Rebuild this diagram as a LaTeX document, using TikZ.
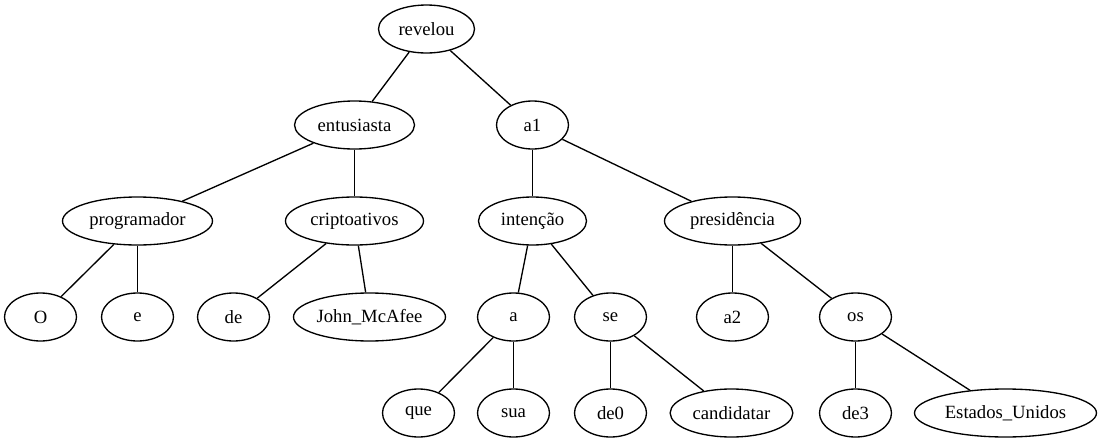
\documentclass[tikz,border=0pt]{standalone}
\usepackage{fontspec}
\setmainfont{Liberation Serif}
\usetikzlibrary{shapes.geometric}

\begin{document}
\begin{tikzpicture}[
        x=0.75pt, y=-0.75pt,
        word/.style={ellipse, draw, line width=1pt, inner sep=0pt, minimum width=54pt, minimum height=36pt, font=\fontsize{14}{16}\selectfont},
        tree_edge/.style={line width=1pt}
    ]
        \useasboundingbox (-0.5,0) rectangle (1100.5,443);
        \node[word, minimum width=72pt] (revelou) at (426,29) {revelou};
        \node[word, minimum width=90pt] (entusiasta) at (354,125) {entusiasta};
        \node[word] (a1) at (532,125) {a1};
        \node[word, minimum width=112.5pt] (programador) at (137,221) {programador};
        \node[word, minimum width=103.5pt] (cripto) at (354,221) {criptoativos};
        \node[word, minimum width=81pt] (intencao) at (532,221) {intenção};
        \node[word, minimum width=102pt] (presidencia) at (732,221) {presidência};
        \node[word] (O) at (40,317) {O};
        \node[word] (e) at (137,317) {e};
        \node[word] (de) at (233,317) {de};
        \node[word, minimum width=114pt] (mcafee) at (369,317) {John\_McAfee};
        \node[word] (a) at (513,317) {a};
        \node[word] (se) at (610,317) {se};
        \node[word] (a2) at (732,317) {a2};
        \node[word] (os) at (855,317) {os};
        \node[word] (que) at (418,413) {que};
        \node[word] (sua) at (513,413) {sua};
        \node[word] (de0) at (610,413) {de0};
        \node[word, minimum width=92pt] (candidatar) at (731,413) {candidatar};
        \node[word] (de3) at (855,413) {de3};
        \node[word, minimum width=136.5pt] (eua) at (1005,413) {Estados\_Unidos};

        % Edges
        \draw[tree_edge] (revelou) -- (entusiasta);
        \draw[tree_edge] (revelou) -- (a1);
        \draw[tree_edge] (entusiasta) -- (programador);
        \draw[tree_edge] (entusiasta) -- (cripto);
        \draw[tree_edge] (a1) -- (intencao);
        \draw[tree_edge] (a1) -- (presidencia);
        \draw[tree_edge] (programador) -- (O);
        \draw[tree_edge] (programador) -- (e);
        \draw[tree_edge] (cripto) -- (de);
        \draw[tree_edge] (cripto) -- (mcafee);
        \draw[tree_edge] (intencao) -- (a);
        \draw[tree_edge] (intencao) -- (se);
        \draw[tree_edge] (presidencia) -- (a2);
        \draw[tree_edge] (presidencia) -- (os);
        \draw[tree_edge] (a) -- (que);
        \draw[tree_edge] (a) -- (sua);
        \draw[tree_edge] (se) -- (de0);
        \draw[tree_edge] (se) -- (candidatar);
        \draw[tree_edge] (os) -- (de3);
        \draw[tree_edge] (os) -- (eua);
    \end{tikzpicture}
\end{document}
